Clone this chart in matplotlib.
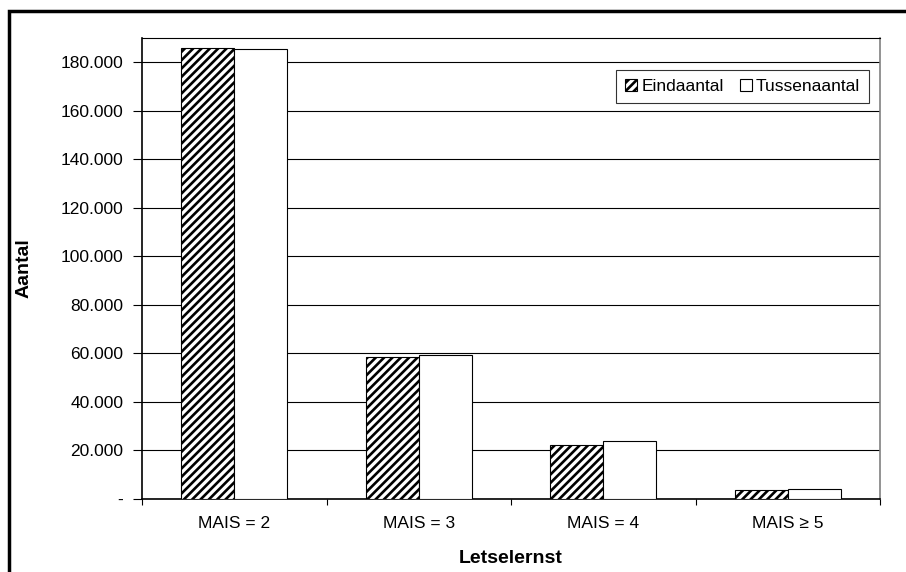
import numpy as np
import matplotlib.pyplot as plt
from matplotlib.patches import Rectangle
from matplotlib.ticker import FuncFormatter

plt.rcParams['font.family'] = ['Liberation Sans', 'DejaVu Sans']
plt.rcParams['hatch.linewidth'] = 1.9

categories = ['MAIS = 2', 'MAIS = 3', 'MAIS = 4', 'MAIS ≥ 5']
eindaantal = [185900, 58600, 22300, 3700]
tussenaantal = [185500, 59400, 23800, 4000]

fig = plt.figure(figsize=(9.06, 5.72), dpi=100)
ax = fig.add_axes([142/906, 1 - 499/572, (880 - 142)/906, (499 - 38)/572])

# kader rond de hele grafiek
fig.patches.append(Rectangle((9/906, -0.1), 1.2, 1.1 - 11/572, transform=fig.transFigure,
                             fill=False, lw=2.5, edgecolor='black'))

x = np.arange(len(categories))
w = 0.286
ax.bar(x - w/2, eindaantal, w, color='white', edgecolor='black', hatch='////', lw=0.8,
       label='Eindaantal', zorder=3)
ax.bar(x + w/2, tussenaantal, w, color='white', edgecolor='black', lw=0.8,
       label='Tussenaantal', zorder=3)

ax.set_xlim(-0.5, len(categories) - 0.5)
ax.set_ylim(0, 190000)
ax.set_yticks(np.arange(0, 180001, 20000))
ax.yaxis.set_major_formatter(FuncFormatter(
    lambda v, p: '-' if v == 0 else f'{int(v):,}'.replace(',', '.')))
ax.grid(axis='y', color='black', lw=0.8, zorder=0)

ax.set_xticks(np.arange(len(categories) + 1) - 0.5)
ax.set_xticklabels([])
ax.set_xticks(x, minor=True)
ax.set_xticklabels(categories, minor=True)
ax.tick_params(axis='x', which='major', length=4, direction='out')
ax.tick_params(axis='x', which='minor', length=0, pad=12, labelsize=12.5)
ax.tick_params(axis='y', length=6.5, direction='out', labelsize=12.5, pad=7)

for s in ['left', 'bottom']:
    ax.spines[s].set_color('black')
    ax.spines[s].set_linewidth(1.2)
ax.spines['top'].set_color('black')
ax.spines['top'].set_linewidth(0.8)
ax.spines['right'].set_color('#808080')
ax.spines['right'].set_linewidth(1.2)

ax.set_xlabel('Letselernst', fontsize=14, fontweight='bold')
ax.set_ylabel('Aantal', fontsize=14, fontweight='bold')
ax.xaxis.set_label_coords(0.5, (499 - 550) / 461)
ax.yaxis.set_label_coords((33 - 142) / 738, 0.5)

leg = ax.legend(loc='upper right', bbox_to_anchor=(1 - 11/738, 1 - 32/461), ncol=2,
                fontsize=12.5, frameon=True, fancybox=False, edgecolor='black',
                handlelength=0.7, handleheight=0.7, handletextpad=0.25,
                columnspacing=0.9, borderpad=0.5, borderaxespad=0)
leg.get_frame().set_linewidth(0.8)

fig.savefig('out.png', dpi=100)
